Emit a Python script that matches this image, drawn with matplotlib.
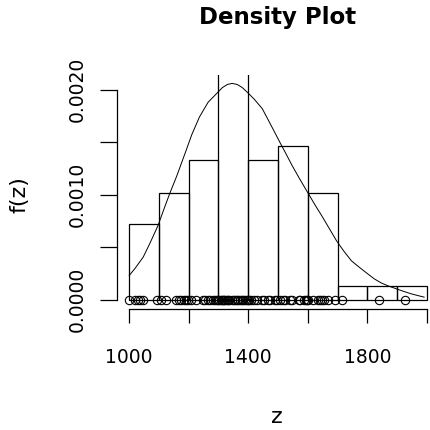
import matplotlib
matplotlib.use("Agg")
import matplotlib.pyplot as plt
import numpy as np

# ---- data ----
bin_edges = [1000, 1100, 1200, 1300, 1400, 1500, 1600, 1700, 1800, 1900, 2000]
bin_density = [0.000724, 0.001015, 0.001327, 0.002700, 0.001327,
               0.001463, 0.001015, 0.000133, 0.000133, 0.000133]

curve_x = [1000, 1020, 1047, 1070, 1097, 1115, 1136, 1160, 1191, 1210,
           1236, 1265, 1296, 1313, 1330, 1346, 1363, 1380, 1399, 1420,
           1447, 1475, 1508, 1525, 1547, 1573, 1600, 1625, 1647, 1672,
           1697, 1722, 1747, 1773, 1800, 1823, 1847, 1872, 1897, 1922,
           1947, 1970, 1991]
curve_y = [0.000231, 0.000300, 0.000406, 0.000540, 0.000708, 0.000850,
           0.001010, 0.001180, 0.001420, 0.001570, 0.001740, 0.001880,
           0.001970, 0.002020, 0.002050, 0.002060, 0.002050, 0.002020,
           0.001970, 0.001910, 0.001820, 0.001670, 0.001490, 0.001400,
           0.001280, 0.001150, 0.001020, 0.000900, 0.000800, 0.000680,
           0.000560, 0.000460, 0.000370, 0.000310, 0.000250, 0.000200,
           0.000160, 0.000130, 0.000105, 0.000080, 0.000057, 0.000040,
           0.000025]

rug_z = [1000, 1021, 1028, 1036, 1047, 1092,
         1108, 1125, 1158, 1166, 1174, 1183, 1191, 1197,
         1208, 1225, 1247, 1256, 1264, 1272, 1280, 1288, 1295, 1299,
         1303, 1307, 1311, 1315, 1319, 1323, 1327, 1331, 1336, 1347,
         1352, 1357, 1362, 1367, 1372, 1378, 1384, 1390, 1395, 1400,
         1404, 1410, 1419, 1428, 1447, 1453, 1467, 1474, 1491, 1497,
         1508, 1516, 1522, 1541, 1547, 1569, 1575, 1586, 1593, 1598, 1600,
         1619, 1636, 1641, 1648, 1653, 1669, 1691,
         1716, 1841, 1926]

x_ticks = [1000, 1200, 1400, 1600, 1800, 2000]
x_tick_labels = ["1000", "", "1400", "", "1800", ""]
y_ticks = [0.0, 0.0005, 0.0010, 0.0015, 0.0020]
y_tick_labels = ["0.0000", "", "0.0010", "", "0.0020"]

title = "Density Plot"
xlabel = "z"
ylabel = "f(z)"

# ---- figure ----
W = H = 430
fig = plt.figure(figsize=(4.3, 4.3), dpi=100)
left_px, right_px, top_px, bottom_px = 117.3, 438.7, 75, 309
ax = fig.add_axes([left_px / W, 1 - bottom_px / H,
                   (right_px - left_px) / W, (bottom_px - top_px) / H])
ax.set_xlim(960, 2040)
ax.set_ylim(-0.000088, 0.002140)
ax.patch.set_alpha(0)

lw = 0.9
edges = np.array(bin_edges)
ax.bar(edges[:-1], bin_density, width=np.diff(edges), align="edge",
       fill=False, edgecolor="black", linewidth=lw)
ax.plot(curve_x, curve_y, color="black", linewidth=0.7)
ax.plot(rug_z, np.zeros(len(rug_z)), linestyle="none", marker="o",
        markersize=6, markerfacecolor="none", markeredgecolor="black",
        markeredgewidth=0.8)

for s in ["top", "right"]:
    ax.spines[s].set_visible(False)
ax.spines["bottom"].set_bounds(1000, 2000)
ax.spines["left"].set_bounds(0, 0.002)
for s in ["bottom", "left"]:
    ax.spines[s].set_linewidth(lw)

ax.set_xticks(x_ticks)
ax.set_xticklabels(x_tick_labels)
ax.set_yticks(y_ticks)
ax.set_yticklabels(y_tick_labels)
ax.tick_params(axis="x", length=10, width=lw, pad=18, labelsize=13.5,
               colors="black")
ax.tick_params(axis="y", length=12, width=lw, pad=10, labelsize=13.5,
               colors="black", labelrotation=90)
for lab in ax.get_yticklabels():
    lab.set_va("center")
    lab.set_ha("right")

fig.text(278 / W, 1 - 24 / H, title, ha="center", va="baseline",
         fontsize=16.5, fontweight="bold")
fig.text(276.7 / W, 1 - 423 / H, xlabel, ha="center", va="baseline",
         fontsize=16)
fig.text(30 / W, 1 - 195 / H, ylabel, ha="right", va="center",
         rotation=90, fontsize=16)

fig.savefig("out.png", dpi=100)
